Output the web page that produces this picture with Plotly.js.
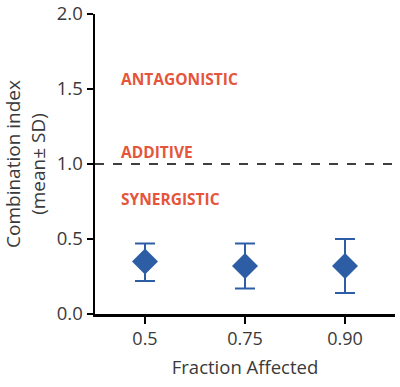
<!DOCTYPE html>
<html><head><meta charset="utf-8">
<script src="https://cdn.plot.ly/plotly-3.0.1.min.js"></script>
<style>html,body{margin:0;padding:0;background:#fff}#chart{width:400px;height:387px}</style>
</head><body><div id="chart"></div>
<script>
const categories = ["0.5", "0.75", "0.90"];
const meanCI = [0.35, 0.32, 0.32];
const sdPlus = [0.12, 0.15, 0.18];
const sdMinus = [0.13, 0.15, 0.18];
const yTicks = [0, 0.5, 1.0, 1.5, 2.0];
const yTickLabels = ["0.0", "0.5", "1.0", "1.5", "2.0"];
const zoneLabels = ["ANTAGONISTIC", "ADDITIVE", "SYNERGISTIC"];
const zoneY = [1.567, 1.08, 0.767];
const additiveLine = 1.0;

const font = "Open Sans, Lato, DejaVu Sans, sans-serif";
const blue = "#2d5ea5";
const red = "#e5553b";
const textCol = "#3a3a3a";

const trace = {
  x: categories, y: meanCI, type: "scatter", mode: "markers",
  marker: {symbol: "diamond", size: 20, color: blue},
  error_y: {type: "data", symmetric: false, array: sdPlus, arrayminus: sdMinus,
            color: blue, thickness: 2, width: 10},
  hoverinfo: "skip", showlegend: false, cliponaxis: false
};

const annotations = zoneLabels.map((t, i) => ({
  x: 0, xref: "paper", xshift: 24, y: zoneY[i], yref: "y",
  text: "<b>" + t + "</b>", showarrow: false, xanchor: "left", yanchor: "middle",
  font: {family: font, size: 15.5, color: red}
}));

const layout = {
  width: 400, height: 387,
  margin: {l: 95, r: 5, t: 14, b: 73},
  paper_bgcolor: "#fff", plot_bgcolor: "#fff",
  font: {family: font, color: textCol},
  xaxis: {
    type: "category", range: [-0.5, 2.5],
    showline: true, linecolor: "#000", linewidth: 2.5,
    ticks: "outside", ticklen: 7, tickwidth: 2.5, tickcolor: "#000",
    showgrid: false, zeroline: false, ticklabeloverflow: "allow",
    tickfont: {family: font, size: 18, color: textCol},
    title: {text: "Fraction Affected", font: {family: font, size: 18.5, color: textCol}, standoff: 12}
  },
  yaxis: {
    range: [0, 2.0], tickvals: yTicks, ticktext: yTickLabels,
    showline: true, linecolor: "#000", linewidth: 2.5,
    ticks: "outside", ticklen: 6, tickwidth: 2.5, tickcolor: "#000",
    showgrid: false, zeroline: false, ticklabeloverflow: "allow",
    tickfont: {family: font, size: 18.5, color: textCol},
    title: {text: "Combination index<br>(mean± SD)", font: {family: font, size: 19, color: textCol}, standoff: 9}
  },
  shapes: [
    {type: "line", xref: "paper", x0: 0, x1: 1, yref: "y", y0: additiveLine, y1: additiveLine,
     line: {color: "#000", width: 1.5, dash: "dash"}}
  ],
  annotations: annotations
};

Plotly.newPlot("chart", [trace], layout, {staticPlot: true, displayModeBar: false});
</script></body></html>
